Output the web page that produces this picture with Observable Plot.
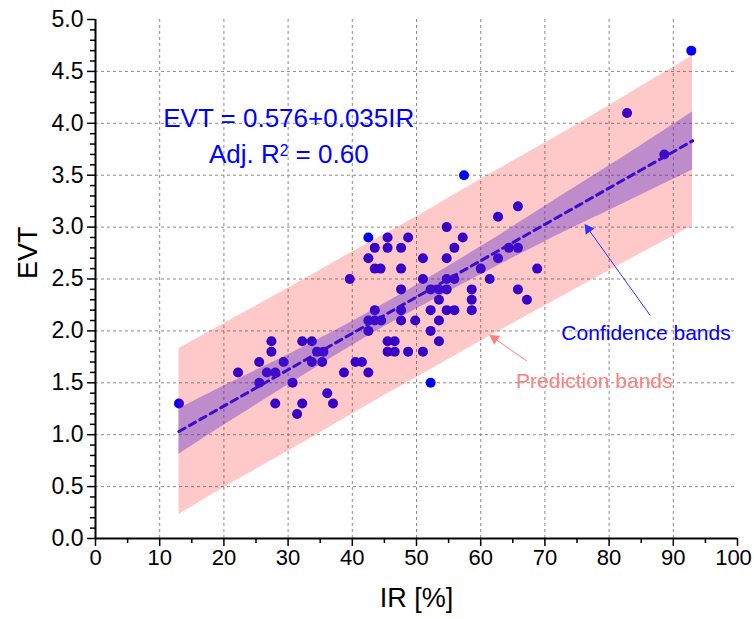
<!DOCTYPE html>
<html><head><meta charset="utf-8">
<script src="https://cdn.jsdelivr.net/npm/d3@7"></script>
<script src="https://cdn.jsdelivr.net/npm/@observablehq/plot@0.6"></script>
<style>body{margin:0;background:#fff} svg{display:block}</style>
</head><body><div id="chart"></div>
<script>
// Observed data: IR [%] and EVT
const irValues = [13, 22.2, 25.5, 25.5, 26.7, 27.4, 27.4, 28.0, 28.0, 29.3,
  30.7, 31.4, 32.2, 32.2, 33.7, 33.7, 34.5, 35.5, 35.3, 36.1,
  37.0, 38.7, 39.6, 40.5, 41.5, 42.5, 42.5, 42.5, 43.5, 44.5,
  43.5, 42.5, 43.5, 44.4, 43.5, 42.5, 45.5, 45.5, 45.5, 46.6,
  45.5, 46.6, 47.6, 47.6, 47.6, 47.6, 47.6, 48.7, 48.7, 49.8,
  51.0, 51.0, 51.0, 52.2, 52.2, 52.2, 52.2, 53.5, 53.5, 53.5,
  53.5, 54.7, 54.7, 54.7, 54.7, 54.7, 55.9, 55.9, 55.9, 57.2,
  57.4, 58.6, 58.6, 58.6, 60.0, 61.4, 62.7, 62.7, 64.4, 65.8,
  65.8, 65.8, 67.2, 68.8, 82.8, 88.6, 92.8];
const evtValues = [1.3, 1.6, 1.7, 1.5, 1.6, 1.9, 1.8, 1.6, 1.3, 1.7,
  1.5, 1.2, 1.9, 1.3, 1.9, 1.7, 1.8, 1.8, 1.7, 1.4,
  1.3, 1.6, 2.5, 1.7, 1.7, 1.6, 2.0, 2.1, 2.1, 2.1,
  2.2, 2.7, 2.6, 2.6, 2.8, 2.9, 2.9, 2.8, 1.9, 1.9,
  1.8, 1.8, 2.8, 2.6, 2.4, 2.2, 2.1, 2.9, 1.8, 2.1,
  2.7, 2.5, 1.8, 2.4, 2.2, 2.0, 1.5, 2.4, 2.3, 2.1,
  1.9, 3.0, 2.7, 2.5, 2.4, 2.2, 2.8, 2.5, 2.2, 2.9,
  3.5, 2.4, 2.3, 2.2, 2.6, 2.5, 3.1, 2.7, 2.8, 2.8,
  3.2, 2.4, 2.3, 2.6, 4.1, 3.7, 4.7];

// Linear fit line (EVT = 0.576 + 0.035 IR), endpoints
const fitX = [13, 93];
const fitY = [1.031, 3.831];

// Band boundaries
const bandX    = [13,   20,   30,   40,   50,   60,   70,   80,   93];
const confLow  = [0.81, 1.09, 1.48, 1.86, 2.21, 2.54, 2.86, 3.16, 3.55];
const confHigh = [1.25, 1.47, 1.77, 2.09, 2.44, 2.81, 3.20, 3.59, 4.11];
const predLow  = [0.23, 0.49, 0.84, 1.20, 1.55, 1.90, 2.24, 2.58, 3.01];
const predHigh = [1.83, 2.07, 2.41, 2.76, 3.10, 3.46, 3.81, 4.17, 4.65];

// Annotation arrows (tail -> tip)
const confArrow = {x1: 86.4, y1: 2.15, x2: 76.3, y2: 3.02};
const predArrow = {x1: 67.2, y1: 1.71, x2: 61.6, y2: 1.95};

// Ticks
const xTicks = [0, 10, 20, 30, 40, 50, 60, 70, 80, 90, 100];
const xMinor = [5, 15, 25, 35, 45, 55, 65, 75, 85, 95];
const yTicks = [0, 0.5, 1, 1.5, 2, 2.5, 3, 3.5, 4, 4.5, 5];
const yMinor = d3.range(0, 51).map(i => i / 10).filter(v => Math.round(v * 10) % 5 !== 0);
const xGrid = [10, 20, 30, 40, 50, 60, 70, 80, 90];
const yGrid = [0.5, 1, 1.5, 2, 2.5, 3, 3.5, 4, 4.5];

const points = irValues.map((x, i) => ({x, y: evtValues[i]}));
const fit = fitX.map((x, i) => ({x, y: fitY[i]}));
const bands = bandX.map((x, i) => ({x, cl: confLow[i], ch: confHigh[i], pl: predLow[i], ph: predHigh[i]}));

// arrowhead placed slightly behind the tip, along the arrow
function head(a, back) {
  return {x: a.x2 + (a.x1 - a.x2) * back, y: a.y2 + (a.y1 - a.y2) * back};
}

const font = "'Liberation Sans', Arial, sans-serif";
const narrow = "'Liberation Sans Narrow', 'Arial Narrow', 'Liberation Sans', Arial, sans-serif";

const chart = Plot.plot({
  width: 754,
  height: 619,
  marginLeft: 95,
  marginRight: 17,
  marginTop: 19,
  marginBottom: 81,
  style: {fontFamily: font, fontSize: "20px", color: "#000", background: "#fff"},
  x: {domain: [0, 100]},
  y: {domain: [0, 5]},
  marks: [
    Plot.gridX({ticks: xGrid, stroke: "#8a8a8a", strokeOpacity: 1, strokeDasharray: "3,3", strokeWidth: 1}),
    Plot.gridY({ticks: yGrid, stroke: "#8a8a8a", strokeOpacity: 1, strokeDasharray: "3,3", strokeWidth: 1}),
    Plot.dot(points, {x: "x", y: "y", r: 5, fill: "#0000ff", stroke: "none"}),
    Plot.line(fit, {x: "x", y: "y", stroke: "#0000ff", strokeWidth: 3, strokeDasharray: "7,5"}),
    Plot.areaY(bands, {x: "x", y1: "pl", y2: "ph", fill: "#ff0000", fillOpacity: 0.21, curve: "natural"}),
    Plot.areaY(bands, {x: "x", y1: "cl", y2: "ch", fill: "#4a22cc", fillOpacity: 0.36, curve: "natural"}),
    Plot.axisX({ticks: xMinor, tickSize: 5, tickFormat: () => "", strokeWidth: 1.5}),
    Plot.axisX({ticks: xTicks, tickSize: 8, tickPadding: 3, strokeWidth: 1.5, fontSize: 22, fontFamily: narrow, label: null}),
    Plot.axisY({ticks: yMinor, tickSize: 5, tickFormat: () => "", strokeWidth: 1.5}),
    Plot.axisY({ticks: yTicks, tickSize: 8, tickPadding: 4, strokeWidth: 1.5, fontSize: 23, fontFamily: narrow, tickFormat: d3.format(".1f"), label: null}),
    Plot.ruleY([0], {stroke: "#000", strokeWidth: 2}),
    Plot.ruleX([0], {stroke: "#000", strokeWidth: 2}),
    Plot.text(["IR [%]"], {frameAnchor: "bottom", dy: 68, fontSize: 27, fontFamily: narrow, fill: "#000"}),
    Plot.text(["EVT"], {frameAnchor: "left", dx: -67, rotate: -90, fontSize: 27, fontFamily: narrow, fill: "#000"}),
    Plot.text(["EVT = 0.576+0.035IR"], {x: 30.1, y: 4.04, fontSize: 26, fill: "#0000ff"}),
    Plot.text(["Adj. R² = 0.60"], {x: 30.1, y: 3.70, fontSize: 26, fill: "#0000ff"}),
    Plot.text(["Confidence bands"], {x: 85.75, y: 1.975, fontSize: 21, fill: "#0000ff"}),
    Plot.text(["Prediction bands"], {x: 77.7, y: 1.51, fontSize: 21, fill: "#ff7f7f"}),
    Plot.link([confArrow], {x1: "x1", y1: "y1", x2: "x2", y2: "y2", stroke: "#3333ff", strokeWidth: 1}),
    Plot.dot([head(confArrow, 0.045)], {x: "x", y: "y", symbol: "triangle", r: 4, rotate: -36, fill: "#3333ff", stroke: "none"}),
    Plot.link([predArrow], {x1: "x1", y1: "y1", x2: "x2", y2: "y2", stroke: "#ff7f7f", strokeWidth: 1}),
    Plot.dot([head(predArrow, 0.1)], {x: "x", y: "y", symbol: "triangle", r: 4, rotate: -56, fill: "#ff7f7f", stroke: "none"})
  ]
});

// render the R² with a real superscript
d3.select(chart).selectAll("text")
  .filter(function() { return this.textContent === "Adj. R² = 0.60"; })
  .each(function() {
    const t = d3.select(this);
    t.text(null);
    t.append("tspan").text("Adj. R");
    t.append("tspan").attr("dy", "-0.45em").attr("font-size", "60%").text("2");
    t.append("tspan").attr("dy", "0.27em").text(" = 0.60");
  });

// keep the last x tick label ("100") inside the picture
d3.select(chart).selectAll("text")
  .filter(function() { return this.textContent === "100"; })
  .attr("dx", -4);

document.getElementById("chart").appendChild(chart);
</script></body></html>
